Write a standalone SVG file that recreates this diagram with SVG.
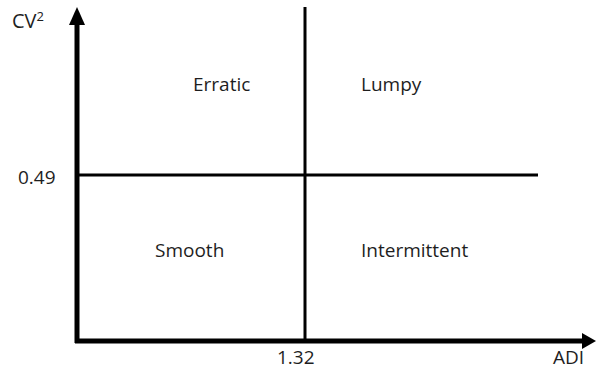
<svg xmlns="http://www.w3.org/2000/svg" width="597" height="370" viewBox="0 0 597 370">
<style>
.t{font-family:"Open Sans","Liberation Sans",sans-serif;font-size:19px;fill:#1e1e1e}
.ax{stroke:#000;stroke-width:5;fill:none}
.ln{stroke:#000;stroke-width:3;fill:none}
</style>
<rect width="597" height="370" fill="#fff"/>
<g id="connectors">
<line class="ax" x1="77" y1="22" x2="77" y2="343"/>
<polygon points="77,7 69,25 85,25" fill="#000"/>
<line class="ax" x1="75" y1="341" x2="584" y2="341"/>
<polygon points="596,341 582,333 582,349" fill="#000"/>
<line class="ln" x1="79" y1="175" x2="538" y2="175"/>
<line class="ln" x1="305" y1="7" x2="305" y2="340"/>
</g>
<g id="labels">
<text class="t" x="12" y="28" style="font-size:20px">CV<tspan dy="-7" style="font-size:13px">2</tspan></text>
<text class="t" x="18" y="184">0.49</text>
<text class="t" x="277" y="364">1.32</text>
<text class="t" x="553" y="364">ADI</text>
</g>
<g id="erratic"><text class="t" x="193" y="91">Erratic</text></g>
<g id="lumpy"><text class="t" x="361" y="91">Lumpy</text></g>
<g id="smooth"><text class="t" x="155" y="257">Smooth</text></g>
<g id="intermittent"><text class="t" x="361" y="257">Intermittent</text></g>
</svg>
